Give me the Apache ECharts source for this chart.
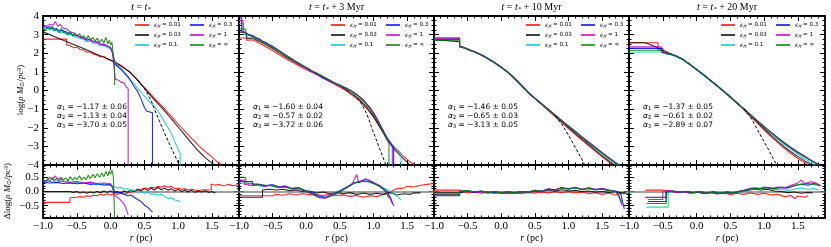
<!DOCTYPE html>
<html><head><meta charset="utf-8">
<script src="https://cdn.jsdelivr.net/npm/echarts@6/dist/echarts.min.js"></script>
<style>html,body{margin:0;padding:0;background:#fff}#c{width:831px;height:247px}</style>
</head><body><div id="c"></div>
<script>
// ---------- labels ----------
const TITLES = ['', ' + 3 Myr', ' + 10 Myr', ' + 20 Myr'];
const EPS = ['0.01', '0.03', '0.1', '0.3', '1', '∞'];
const ALPHAS = [
  ['−1.17 ± 0.06', '−1.13 ± 0.04', '−3.70 ± 0.05'],
  ['−1.60 ± 0.04', '−0.57 ± 0.02', '−3.72 ± 0.06'],
  ['−1.46 ± 0.05', '−0.65 ± 0.03', '−3.13 ± 0.05'],
  ['−1.37 ± 0.05', '−0.61 ± 0.02', '−2.89 ± 0.07']
];
const X_TICKS = [-1.0, -0.5, 0.0, 0.5, 1.0, 1.5];
const Y_TOP_TICKS = [-4, -3, -2, -1, 0, 1, 2, 3, 4];
const Y_RES_TICKS = [-0.5, 0.0, 0.5];

// ---------- panel 1 (t = t*) density profiles [r, log rho] ----------
const T1_R = [[-1,2.76],[-0.65,2.76],[-0.65,2.45],[-0.6,2.42],[-0.55,2.3],[-0.5,2.34],[-0.45,2.2],[-0.4,2.18],[-0.35,2.05],[-0.3,2.08],[-0.25,1.95],[-0.2,1.9],[-0.15,1.8],[-0.1,1.84],[-0.05,1.7],[0,1.64],[0.05,1.58],[0.1,1.46],[0.15,1.36],[0.2,1.22],[0.25,1.08],[0.3,0.92],[0.35,0.74],[0.4,0.56],[0.45,0.36],[0.5,0.17],[0.55,-0.02],[0.6,-0.22],[0.65,-0.42],[0.7,-0.6],[0.75,-0.8],[0.8,-0.98],[0.85,-1.2],[0.9,-1.38],[0.95,-1.6],[1.0,-1.8],[1.05,-2.0],[1.1,-2.2],[1.15,-2.38],[1.2,-2.58],[1.25,-2.75],[1.3,-2.95],[1.35,-3.12],[1.4,-3.28],[1.45,-3.42],[1.5,-3.58],[1.55,-3.75],[1.6,-3.88],[1.63,-3.95],[1.63,-4.5]];
const T1_K = [[-1,3.15],[-0.9,3.0],[-0.8,2.85],[-0.7,2.7],[-0.6,2.55],[-0.5,2.4],[-0.4,2.25],[-0.3,2.09],[-0.2,1.93],[-0.1,1.78],[0,1.62],[0.1,1.42],[0.2,1.2],[0.3,0.95],[0.4,0.56],[0.5,0.12],[0.6,-0.3],[0.7,-0.7],[0.8,-1.1],[0.9,-1.52],[1.0,-1.96],[1.1,-2.4],[1.2,-2.84],[1.3,-3.26],[1.4,-3.6],[1.5,-3.9],[1.55,-4.05]];
const T1_C = [[-1,3.38],[-0.95,3.3],[-0.9,3.35],[-0.85,3.2],[-0.8,3.25],[-0.75,3.1],[-0.7,3.15],[-0.65,3.0],[-0.6,3.02],[-0.55,2.9],[-0.5,2.85],[-0.45,2.8],[-0.4,2.75],[-0.35,2.62],[-0.3,2.65],[-0.25,2.5],[-0.2,2.52],[-0.15,2.4],[-0.1,2.42],[-0.05,2.3],[0,2.25],[0.03,2.05],[0.06,1.55],[0.1,1.35],[0.15,1.2],[0.2,1.0],[0.25,0.8],[0.3,0.55],[0.35,0.35],[0.4,0.12],[0.45,-0.08],[0.5,-0.3],[0.55,-0.5],[0.6,-0.7],[0.65,-0.88],[0.7,-1.1],[0.75,-1.4],[0.8,-1.7],[0.85,-2.0],[0.9,-2.3],[0.95,-2.75],[1.0,-3.15],[1.03,-3.4],[1.03,-4.5]];
const T1_B = [[-1,3.45],[-0.95,3.38],[-0.9,3.42],[-0.85,3.3],[-0.8,3.32],[-0.75,3.2],[-0.7,3.22],[-0.65,3.08],[-0.6,3.1],[-0.55,2.95],[-0.5,2.98],[-0.45,2.85],[-0.4,2.82],[-0.35,2.7],[-0.3,2.75],[-0.25,2.6],[-0.2,2.62],[-0.15,2.5],[-0.1,2.45],[-0.05,2.4],[0,2.3],[0.03,2.0],[0.06,1.45],[0.1,1.3],[0.15,1.15],[0.2,0.95],[0.25,0.75],[0.3,0.5],[0.35,0.2],[0.4,-0.05],[0.45,-0.45],[0.5,-0.9],[0.53,-1.1],[0.58,-1.15],[0.62,-1.2],[0.62,-4.5]];
const T1_M = [[-1,3.5],[-0.95,3.45],[-0.9,3.55],[-0.85,3.5],[-0.82,3.7],[-0.78,3.45],[-0.75,3.55],[-0.7,3.35],[-0.65,3.3],[-0.6,3.15],[-0.55,3.1],[-0.5,2.95],[-0.45,2.9],[-0.4,2.8],[-0.35,2.78],[-0.3,2.7],[-0.25,2.62],[-0.2,2.6],[-0.15,2.48],[-0.1,2.5],[-0.05,2.38],[0,2.3],[0.03,2.0],[0.05,1.2],[0.07,0.6],[0.12,0.55],[0.15,0.45],[0.2,0.4],[0.23,0.2],[0.26,0.1],[0.26,-4.5]];
const T1_G = [[-1,3.35],[-0.96,3.2],[-0.93,3.4],[-0.9,3.25],[-0.86,3.45],[-0.83,3.2],[-0.8,3.3],[-0.76,3.1],[-0.73,3.35],[-0.7,3.1],[-0.66,3.2],[-0.63,3.0],[-0.6,3.15],[-0.56,2.95],[-0.53,3.1],[-0.5,2.9],[-0.46,3.05],[-0.43,2.85],[-0.4,2.95],[-0.36,2.75],[-0.33,2.95],[-0.3,2.7],[-0.26,2.85],[-0.23,2.65],[-0.2,2.8],[-0.16,2.6],[-0.13,2.75],[-0.1,2.55],[-0.07,2.85],[-0.04,2.5],[-0.02,2.7],[0,2.45],[0.02,2.6],[0.04,1.9],[0.06,1.4],[0.06,0.3]];
const T1_FIT = [[0.4,0.56],[0.5,0.12],[0.55,-0.2],[0.61,-0.63],[0.66,-1.1],[0.72,-1.62],[0.8,-2.3],[0.9,-3.1],[1.0,-3.88],[1.03,-4.1]];
// residuals panel 1 [r, dlog rho]
const D1_R = [[-1,-0.38],[-0.6,-0.38],[-0.6,-0.22],[-0.5,-0.2],[-0.45,-0.18],[-0.4,-0.2],[-0.35,-0.15],[-0.3,-0.17],[-0.25,-0.13],[-0.2,-0.15],[-0.15,-0.1],[-0.1,-0.13],[-0.05,-0.08],[0,-0.12],[0.05,-0.08],[0.1,-0.1],[0.15,-0.06],[0.2,-0.1],[0.25,-0.05],[0.3,-0.02],[0.35,0.0],[0.4,0.05],[0.45,0.08],[0.5,0.12],[0.55,0.1],[0.6,0.15],[0.65,0.12],[0.7,0.18],[0.75,0.15],[0.8,0.2],[0.85,0.15],[0.9,0.18],[0.95,0.1],[1.0,0.12],[1.05,0.08],[1.1,0.1],[1.15,0.05],[1.2,0.08],[1.25,0.05],[1.3,0.03],[1.35,0.05],[1.4,0.06],[1.45,0.05],[1.49,0.06],[1.49,0.26],[1.55,0.22],[1.6,0.25],[1.65,0.2],[1.7,0.22],[1.75,0.25],[1.8,0.2],[1.85,0.22],[1.9,0.24]];
const D1_K = [[-1,0.0],[-0.6,0.0],[-0.55,-0.03],[-0.5,0.0],[-0.45,-0.05],[-0.4,-0.02],[-0.35,-0.06],[-0.3,-0.02],[-0.25,-0.05],[-0.2,0.0],[-0.15,-0.04],[-0.1,0.02],[-0.05,-0.03],[0,0.02],[0.05,-0.04],[0.1,0.0],[0.15,-0.05],[0.2,0.02],[0.25,-0.03],[0.3,0.05],[0.35,0.0],[0.4,0.08],[0.45,0.02],[0.5,0.1],[0.55,0.03],[0.6,0.12],[0.65,0.05],[0.7,0.15],[0.75,0.06],[0.8,0.12],[0.85,0.04],[0.9,0.1],[0.95,0.02],[1.0,0.08],[1.05,0.0],[1.1,0.05],[1.15,-0.02],[1.2,0.04],[1.25,-0.03],[1.3,0.02],[1.35,-0.02],[1.4,0.03],[1.45,-0.03],[1.5,0.0],[1.55,-0.05]];
const D1_C = [[-1,0.38],[-0.9,0.35],[-0.8,0.33],[-0.7,0.36],[-0.6,0.3],[-0.5,0.32],[-0.4,0.28],[-0.3,0.3],[-0.2,0.24],[-0.1,0.26],[0,0.2],[0.05,0.18],[0.1,0.12],[0.15,0.15],[0.2,0.08],[0.25,0.1],[0.3,0.02],[0.35,0.05],[0.4,-0.02],[0.45,0.0],[0.5,-0.06],[0.55,-0.03],[0.6,-0.1],[0.65,-0.08],[0.7,-0.12],[0.75,-0.1],[0.8,-0.18],[0.85,-0.25],[0.9,-0.22],[0.95,-0.3],[1.0,-0.32],[1.03,-0.36]];
const D1_B = [[-1,0.33],[-0.9,0.3],[-0.8,0.32],[-0.7,0.28],[-0.6,0.3],[-0.5,0.27],[-0.4,0.3],[-0.3,0.25],[-0.2,0.27],[-0.1,0.22],[0,0.25],[0.03,0.15],[0.06,0.0],[0.1,-0.05],[0.15,-0.03],[0.2,-0.1],[0.25,-0.15],[0.3,-0.12],[0.35,-0.2],[0.4,-0.28],[0.45,-0.35],[0.5,-0.48],[0.55,-0.55],[0.6,-0.68],[0.62,-0.72]];
const D1_M = [[-1,0.35],[-0.95,0.38],[-0.9,0.5],[-0.85,0.4],[-0.82,0.55],[-0.78,0.42],[-0.75,0.48],[-0.7,0.35],[-0.6,0.32],[-0.5,0.35],[-0.4,0.3],[-0.3,0.33],[-0.2,0.28],[-0.1,0.3],[0,0.27],[0.03,0.1],[0.06,-0.15],[0.1,-0.2],[0.15,-0.3],[0.2,-0.45],[0.23,-0.6],[0.26,-0.82]];
const D1_G = [[-1,0.38],[-0.96,0.3],[-0.93,0.45],[-0.9,0.35],[-0.86,0.5],[-0.83,0.38],[-0.8,0.45],[-0.76,0.35],[-0.73,0.5],[-0.7,0.4],[-0.66,0.48],[-0.63,0.36],[-0.6,0.52],[-0.56,0.4],[-0.53,0.5],[-0.5,0.42],[-0.46,0.55],[-0.43,0.4],[-0.4,0.5],[-0.36,0.42],[-0.33,0.58],[-0.3,0.45],[-0.26,0.6],[-0.23,0.48],[-0.2,0.62],[-0.16,0.5],[-0.13,0.65],[-0.1,0.52],[-0.07,0.7],[-0.04,0.55],[-0.02,0.72],[0,0.6],[0.02,0.75],[0.04,0.55],[0.06,0.5],[0.06,-0.95]];

// ---------- panel 2 (t* + 3 Myr) ----------
const T2_R = [[-1,2.82],[-0.89,2.82],[-0.89,2.7],[-0.8,2.72],[-0.7,2.55],[-0.6,2.35],[-0.5,2.15],[-0.4,1.92],[-0.3,1.7],[-0.2,1.5],[-0.1,1.3],[0,1.12],[0.1,0.95],[0.2,0.78],[0.3,0.58],[0.4,0.38],[0.5,0.18],[0.6,-0.03],[0.7,-0.3],[0.8,-0.58],[0.9,-0.98],[1.0,-1.42],[1.1,-1.98],[1.2,-2.55],[1.3,-3.02],[1.4,-3.38],[1.5,-3.7],[1.55,-3.85],[1.6,-3.95],[1.62,-4.5]];
const T2_K = [[-1,3.15],[-0.9,3.1],[-0.88,3.0],[-0.88,2.8],[-0.8,2.82],[-0.7,2.65],[-0.6,2.45],[-0.5,2.25],[-0.4,2.02],[-0.3,1.8],[-0.2,1.58],[-0.1,1.38],[0,1.2],[0.1,1.02],[0.2,0.85],[0.3,0.65],[0.4,0.45],[0.5,0.25],[0.6,0.03],[0.7,-0.22],[0.8,-0.5],[0.9,-0.9],[1.0,-1.38],[1.1,-2.0],[1.2,-2.62],[1.3,-3.12],[1.4,-3.5],[1.5,-3.85],[1.55,-4.05]];
const T2_C = [[-1,3.6],[-0.93,3.6],[-0.93,3.0],[-0.85,2.98],[-0.8,2.92],[-0.7,2.75],[-0.6,2.55],[-0.5,2.35],[-0.4,2.1],[-0.3,1.88],[-0.2,1.62],[-0.1,1.42],[0,1.2],[0.1,0.98],[0.2,0.76],[0.3,0.58],[0.4,0.42],[0.5,0.3],[0.6,0.12],[0.7,-0.1],[0.8,-0.38],[0.9,-0.75],[1.0,-1.22],[1.1,-1.85],[1.2,-2.5],[1.3,-3.0],[1.41,-3.35],[1.41,-4.5]];
const T2_B = [[-1,3.9],[-0.96,3.9],[-0.96,3.2],[-0.9,3.1],[-0.85,3.0],[-0.8,2.95],[-0.75,2.85],[-0.7,2.78],[-0.65,2.65],[-0.6,2.58],[-0.55,2.45],[-0.5,2.38],[-0.45,2.25],[-0.4,2.14],[-0.35,2.0],[-0.3,1.9],[-0.25,1.75],[-0.2,1.66],[-0.15,1.52],[-0.1,1.44],[-0.05,1.3],[0,1.22],[0.05,1.08],[0.1,1.0],[0.15,0.87],[0.2,0.79],[0.25,0.66],[0.3,0.6],[0.35,0.48],[0.4,0.42],[0.45,0.33],[0.5,0.28],[0.55,0.18],[0.6,0.12],[0.65,0.0],[0.7,-0.08],[0.75,-0.22],[0.8,-0.35],[0.85,-0.52],[0.9,-0.72],[0.95,-0.95],[1.0,-1.2],[1.05,-1.5],[1.1,-1.85],[1.15,-2.2],[1.2,-2.55],[1.25,-2.85],[1.3,-3.05],[1.3,-4.5]];
const T2_M = [[-1,3.75],[-0.94,3.75],[-0.94,3.15],[-0.9,3.08],[-0.85,2.98],[-0.8,2.92],[-0.75,2.82],[-0.7,2.72],[-0.65,2.62],[-0.6,2.52],[-0.55,2.44],[-0.5,2.32],[-0.45,2.24],[-0.4,2.1],[-0.35,2.02],[-0.3,1.86],[-0.25,1.78],[-0.2,1.62],[-0.15,1.55],[-0.1,1.4],[-0.05,1.32],[0,1.18],[0.05,1.1],[0.1,0.96],[0.15,0.9],[0.2,0.76],[0.25,0.7],[0.3,0.56],[0.35,0.52],[0.4,0.4],[0.45,0.36],[0.5,0.24],[0.55,0.2],[0.6,0.08],[0.65,0.03],[0.7,-0.1],[0.75,-0.2],[0.8,-0.38],[0.85,-0.5],[0.9,-0.74],[0.95,-0.92],[1.0,-1.22],[1.05,-1.48],[1.1,-1.88],[1.15,-2.18],[1.2,-2.58],[1.25,-2.8],[1.28,-3.0],[1.28,-4.5]];
const T2_G = [[-1,3.3],[-0.9,3.3],[-0.9,3.02],[-0.85,2.95],[-0.8,2.9],[-0.75,2.8],[-0.7,2.72],[-0.65,2.6],[-0.6,2.52],[-0.55,2.42],[-0.5,2.32],[-0.45,2.2],[-0.4,2.1],[-0.35,2.0],[-0.3,1.88],[-0.25,1.78],[-0.2,1.68],[-0.15,1.55],[-0.1,1.45],[-0.05,1.35],[0,1.25],[0.05,1.15],[0.1,1.02],[0.15,0.95],[0.2,0.82],[0.25,0.75],[0.3,0.64],[0.35,0.56],[0.4,0.46],[0.45,0.38],[0.5,0.28],[0.55,0.2],[0.6,0.1],[0.65,0.02],[0.7,-0.12],[0.75,-0.24],[0.8,-0.4],[0.85,-0.56],[0.9,-0.78],[0.95,-1.0],[1.0,-1.28],[1.05,-1.58],[1.1,-1.92],[1.15,-2.28],[1.2,-2.65],[1.23,-2.85],[1.23,-4.5]];
const T2_FIT = [[0.7,-0.22],[0.8,-0.58],[0.9,-1.25],[0.99,-2.16],[1.1,-3.2],[1.19,-4.05]];
const D2_R = [[-1,-0.15],[-0.5,-0.15],[-0.45,-0.1],[-0.35,-0.13],[-0.25,-0.08],[-0.15,-0.12],[-0.05,-0.07],[0.05,-0.12],[0.15,-0.1],[0.25,-0.14],[0.35,-0.1],[0.45,-0.14],[0.55,-0.12],[0.65,-0.17],[0.75,-0.14],[0.85,-0.2],[0.95,-0.15],[1.05,-0.18],[1.15,-0.1],[1.25,-0.02],[1.3,0.05],[1.35,0.1],[1.45,0.12],[1.5,0.18],[1.6,0.16],[1.7,0.22],[1.8,0.25],[1.9,0.28]];
const D2_K = [[-1,-0.2],[-0.65,-0.2],[-0.65,0.05],[-0.55,0.08],[-0.45,0.05],[-0.35,0.08],[-0.25,0.03],[-0.15,0.05],[-0.05,0.0],[0.05,0.02],[0.15,-0.05],[0.25,-0.02],[0.35,-0.08],[0.45,-0.03],[0.55,-0.08],[0.65,-0.04],[0.75,-0.1],[0.85,-0.05],[0.95,-0.1],[1.05,-0.06],[1.15,-0.1],[1.25,-0.04],[1.35,-0.12],[1.45,-0.08],[1.55,-0.1],[1.6,-0.05],[1.7,-0.05]];
const D2_C = [[-1,0.3],[-0.85,0.3],[-0.85,0.2],[-0.75,0.22],[-0.65,0.18],[-0.55,0.22],[-0.45,0.15],[-0.35,0.18],[-0.25,0.1],[-0.15,0.14],[-0.05,0.05],[0.05,0.0],[0.15,-0.12],[0.25,-0.16],[0.35,-0.12],[0.45,-0.02],[0.55,0.1],[0.65,0.2],[0.75,0.32],[0.85,0.38],[0.95,0.32],[1.05,0.25],[1.15,0.12],[1.25,0.0],[1.35,-0.15],[1.41,-0.3]];
const D2_B = [[-1,0.35],[-0.8,0.35],[-0.8,0.22],[-0.7,0.25],[-0.6,0.2],[-0.5,0.24],[-0.4,0.16],[-0.3,0.18],[-0.2,0.1],[-0.1,0.12],[0,0.02],[0.1,-0.06],[0.2,-0.18],[0.3,-0.2],[0.4,-0.1],[0.5,0.02],[0.6,0.15],[0.7,0.3],[0.8,0.36],[0.9,0.42],[1.0,0.3],[1.1,0.2],[1.2,0.0],[1.25,-0.2],[1.3,-0.5]];
const D2_M = [[-1,0.4],[-0.92,0.4],[-0.92,0.25],[-0.82,0.22],[-0.72,0.26],[-0.62,0.18],[-0.52,0.22],[-0.42,0.14],[-0.32,0.2],[-0.22,0.1],[-0.12,0.14],[-0.02,0.0],[0.08,-0.08],[0.18,-0.2],[0.28,-0.24],[0.38,-0.12],[0.48,-0.04],[0.58,0.12],[0.68,0.25],[0.75,0.6],[0.78,0.3],[0.88,0.45],[0.98,0.35],[1.08,0.2],[1.18,0.02],[1.24,-0.2],[1.28,-0.42]];
const D2_G = [[-1,0.5],[-0.9,0.5],[-0.9,0.3],[-0.8,0.28],[-0.7,0.24],[-0.6,0.22],[-0.5,0.2],[-0.4,0.14],[-0.3,0.16],[-0.2,0.08],[-0.1,0.1],[0,0.0],[0.1,-0.1],[0.2,-0.22],[0.3,-0.22],[0.4,-0.14],[0.5,-0.02],[0.6,0.12],[0.7,0.28],[0.8,0.34],[0.9,0.36],[1.0,0.28],[1.1,0.16],[1.18,0.0],[1.23,-0.25]];

// ---------- panel 3 (t* + 10 Myr) ----------
const T3_R = [[-1,2.83],[-0.62,2.83],[-0.62,2.4],[-0.5,2.24],[-0.4,2.08],[-0.3,1.92],[-0.2,1.72],[-0.1,1.5],[0,1.25],[0.1,0.97],[0.2,0.62],[0.3,0.27],[0.4,-0.12],[0.5,-0.44],[0.6,-0.76],[0.7,-1.08],[0.8,-1.4],[0.9,-1.72],[1.0,-2.04],[1.1,-2.36],[1.2,-2.66],[1.3,-2.97],[1.4,-3.27],[1.5,-3.56],[1.6,-3.84],[1.65,-3.96],[1.66,-4.5]];
const T3_K = [[-1,2.72],[-0.8,2.68],[-0.62,2.62],[-0.62,2.38],[-0.5,2.22],[-0.4,2.08],[-0.3,1.92],[-0.2,1.72],[-0.1,1.5],[0,1.25],[0.1,0.98],[0.2,0.65],[0.3,0.28],[0.4,-0.1],[0.5,-0.42],[0.6,-0.72],[0.7,-1.03],[0.8,-1.35],[0.9,-1.66],[1.0,-1.98],[1.1,-2.3],[1.2,-2.6],[1.3,-2.9],[1.4,-3.2],[1.5,-3.5],[1.6,-3.78],[1.7,-4.05]];
const T3_C = [[-1,2.74],[-0.62,2.74],[-0.62,2.36],[-0.55,2.3],[-0.5,2.24],[-0.45,2.14],[-0.4,2.1],[-0.35,2.0],[-0.3,1.94],[-0.25,1.82],[-0.2,1.74],[-0.15,1.6],[-0.1,1.52],[-0.05,1.36],[0,1.26],[0.05,1.1],[0.1,1.0],[0.15,0.8],[0.2,0.66],[0.25,0.45],[0.3,0.3],[0.35,0.08],[0.4,-0.08],[0.45,-0.28],[0.5,-0.4],[0.55,-0.58],[0.6,-0.7],[0.65,-0.88],[0.7,-1.0],[0.75,-1.18],[0.8,-1.3],[0.85,-1.5],[0.9,-1.6],[0.95,-1.8],[1.0,-1.92],[1.1,-2.22],[1.2,-2.52],[1.3,-2.82],[1.4,-3.1],[1.5,-3.4],[1.6,-3.68],[1.7,-3.95],[1.75,-4.1]];
const T3_B = [[-1,2.76],[-0.62,2.76],[-0.62,2.35],[-0.55,2.3],[-0.5,2.2],[-0.45,2.15],[-0.4,2.06],[-0.35,2.02],[-0.3,1.9],[-0.25,1.84],[-0.2,1.7],[-0.15,1.62],[-0.1,1.48],[-0.05,1.38],[0,1.24],[0.05,1.12],[0.1,0.96],[0.15,0.82],[0.2,0.63],[0.25,0.47],[0.3,0.26],[0.35,0.1],[0.4,-0.1],[0.45,-0.25],[0.5,-0.42],[0.55,-0.55],[0.6,-0.72],[0.65,-0.85],[0.7,-1.02],[0.75,-1.15],[0.8,-1.32],[0.85,-1.45],[0.9,-1.62],[0.95,-1.75],[1.0,-1.92],[1.1,-2.2],[1.2,-2.5],[1.3,-2.78],[1.4,-3.06],[1.5,-3.35],[1.6,-3.62],[1.7,-3.88],[1.8,-4.1]];
const T3_M = [[-1,2.77],[-0.62,2.77],[-0.62,2.34],[-0.55,2.28],[-0.5,2.22],[-0.45,2.12],[-0.4,2.08],[-0.35,1.98],[-0.3,1.93],[-0.25,1.8],[-0.2,1.73],[-0.15,1.58],[-0.1,1.5],[-0.05,1.35],[0,1.25],[0.05,1.08],[0.1,0.98],[0.15,0.79],[0.2,0.64],[0.25,0.44],[0.3,0.27],[0.35,0.06],[0.4,-0.1],[0.45,-0.3],[0.5,-0.42],[0.55,-0.6],[0.6,-0.71],[0.65,-0.9],[0.7,-1.0],[0.75,-1.2],[0.8,-1.3],[0.85,-1.52],[0.9,-1.6],[0.95,-1.82],[1.0,-1.9],[1.1,-2.18],[1.2,-2.48],[1.3,-2.76],[1.4,-3.04],[1.5,-3.32],[1.6,-3.6],[1.7,-3.86],[1.8,-4.1]];
const T3_G = [[-1,2.7],[-0.62,2.7],[-0.62,2.36],[-0.55,2.29],[-0.5,2.23],[-0.45,2.13],[-0.4,2.09],[-0.35,1.99],[-0.3,1.92],[-0.25,1.81],[-0.2,1.72],[-0.15,1.59],[-0.1,1.49],[-0.05,1.37],[0,1.24],[0.05,1.1],[0.1,0.97],[0.15,0.81],[0.2,0.64],[0.25,0.46],[0.3,0.27],[0.35,0.08],[0.4,-0.1],[0.45,-0.27],[0.5,-0.42],[0.55,-0.57],[0.6,-0.72],[0.65,-0.87],[0.7,-1.02],[0.75,-1.17],[0.8,-1.32],[0.85,-1.48],[0.9,-1.62],[0.95,-1.78],[1.0,-1.92],[1.1,-2.2],[1.2,-2.5],[1.3,-2.8],[1.4,-3.08],[1.5,-3.36],[1.6,-3.64],[1.7,-3.9],[1.78,-4.1]];
const T3_FIT = [[0.8,-1.35],[0.9,-1.8],[1.0,-2.4],[1.1,-3.05],[1.2,-3.7],[1.25,-4.05]];
const D3_R = [[-1,0.05],[-0.62,0.05],[-0.62,-0.02],[-0.5,-0.05],[-0.4,-0.02],[-0.3,-0.06],[-0.2,-0.03],[-0.1,-0.07],[0,-0.04],[0.1,-0.08],[0.2,-0.05],[0.3,-0.08],[0.4,-0.03],[0.5,-0.06],[0.6,-0.02],[0.7,-0.05],[0.8,0.0],[0.9,-0.04],[1.0,0.0],[1.1,-0.05],[1.2,-0.02],[1.3,-0.08],[1.4,-0.04],[1.5,-0.1],[1.6,-0.05],[1.7,-0.12],[1.8,-0.05],[1.9,-0.08]];
const D3_K = [[-1,-0.05],[-0.62,-0.05],[-0.62,0.0],[-0.5,0.02],[-0.4,-0.02],[-0.3,0.01],[-0.2,-0.03],[-0.1,0.0],[0,-0.04],[0.1,-0.01],[0.2,-0.04],[0.3,0.0],[0.4,-0.02],[0.5,0.03],[0.6,0.0],[0.7,0.05],[0.8,0.02],[0.9,0.06],[1.0,0.02],[1.1,0.04],[1.2,0.0],[1.3,0.02],[1.4,-0.02],[1.5,0.0],[1.6,-0.03],[1.7,0.0],[1.8,-0.05],[1.85,-0.05]];
const D3_C = [[-1,-0.08],[-0.62,-0.08],[-0.62,0.0],[-0.5,0.03],[-0.4,-0.02],[-0.3,0.02],[-0.2,-0.03],[-0.1,0.0],[0,-0.05],[0.1,-0.02],[0.2,-0.05],[0.3,0.0],[0.4,-0.02],[0.5,0.04],[0.6,0.02],[0.7,0.08],[0.8,0.05],[0.9,0.12],[1.0,0.08],[1.1,0.12],[1.2,0.06],[1.3,0.1],[1.4,0.05],[1.5,0.08],[1.6,0.02],[1.7,0.0],[1.75,-0.2],[1.8,-0.35]];
const D3_B = [[-1,-0.15],[-0.62,-0.15],[-0.62,0.0],[-0.5,0.02],[-0.4,-0.03],[-0.3,0.0],[-0.2,-0.05],[-0.1,-0.02],[0,-0.06],[0.1,-0.03],[0.2,-0.06],[0.3,-0.01],[0.4,-0.03],[0.5,0.03],[0.6,0.01],[0.7,0.08],[0.8,0.06],[0.9,0.13],[1.0,0.1],[1.1,0.14],[1.2,0.08],[1.3,0.12],[1.4,0.08],[1.5,0.1],[1.6,0.05],[1.7,0.02],[1.78,-0.1],[1.83,-0.62]];
const D3_M = [[-1,-0.1],[-0.62,-0.1],[-0.62,0.02],[-0.5,0.0],[-0.4,-0.02],[-0.3,0.02],[-0.2,-0.04],[-0.1,0.0],[0,-0.05],[0.1,-0.02],[0.2,-0.07],[0.3,-0.02],[0.4,-0.04],[0.5,0.04],[0.6,0.0],[0.7,0.1],[0.8,0.04],[0.9,0.14],[1.0,0.08],[1.1,0.15],[1.2,0.07],[1.3,0.13],[1.4,0.06],[1.5,0.1],[1.6,0.04],[1.7,0.0],[1.76,-0.2],[1.8,-0.5]];
const D3_G = [[-1,-0.12],[-0.62,-0.12],[-0.62,0.01],[-0.5,0.03],[-0.4,-0.01],[-0.3,0.01],[-0.2,-0.04],[-0.1,-0.01],[0,-0.05],[0.1,-0.02],[0.2,-0.05],[0.3,-0.01],[0.4,-0.03],[0.5,0.04],[0.6,0.01],[0.7,0.09],[0.8,0.05],[0.9,0.12],[1.0,0.09],[1.1,0.13],[1.2,0.07],[1.3,0.11],[1.4,0.06],[1.5,0.09],[1.6,0.04],[1.7,0.0],[1.75,-0.15],[1.78,-0.4]];

// ---------- panel 4 (t* + 20 Myr) ----------
const T4_R = [[-1,2.56],[-0.57,2.56],[-0.57,2.2],[-0.5,2.1],[-0.4,1.97],[-0.3,1.84],[-0.2,1.65],[-0.1,1.4],[0,1.12],[0.1,0.85],[0.2,0.56],[0.3,0.26],[0.4,-0.05],[0.5,-0.38],[0.6,-0.7],[0.7,-1.04],[0.8,-1.4],[0.9,-1.76],[1.0,-2.12],[1.1,-2.48],[1.2,-2.8],[1.3,-3.12],[1.4,-3.4],[1.5,-3.65],[1.6,-3.88],[1.65,-3.98],[1.66,-4.5]];
const T4_K = [[-1,2.56],[-0.76,2.56],[-0.7,2.48],[-0.6,2.33],[-0.5,2.17],[-0.4,2.0],[-0.3,1.85],[-0.2,1.66],[-0.1,1.4],[0,1.12],[0.1,0.85],[0.2,0.56],[0.3,0.27],[0.4,-0.03],[0.5,-0.35],[0.6,-0.68],[0.7,-1.0],[0.8,-1.35],[0.9,-1.7],[1.0,-2.05],[1.1,-2.4],[1.2,-2.72],[1.3,-3.03],[1.4,-3.3],[1.5,-3.55],[1.6,-3.78],[1.7,-3.98],[1.72,-4.1]];
const T4_C = [[-1,2.07],[-0.45,2.07],[-0.45,1.95],[-0.4,1.93],[-0.3,1.82],[-0.2,1.64],[-0.1,1.38],[0,1.1],[0.1,0.82],[0.2,0.53],[0.3,0.24],[0.4,-0.06],[0.5,-0.37],[0.6,-0.7],[0.7,-1.0],[0.8,-1.32],[0.9,-1.65],[1.0,-1.98],[1.1,-2.3],[1.2,-2.6],[1.3,-2.9],[1.4,-3.16],[1.5,-3.42],[1.6,-3.66],[1.7,-3.88],[1.78,-4.1]];
const T4_B = [[-1,2.26],[-0.5,2.26],[-0.5,2.04],[-0.45,2.0],[-0.4,1.98],[-0.35,1.9],[-0.3,1.86],[-0.25,1.75],[-0.2,1.68],[-0.15,1.52],[-0.1,1.42],[-0.05,1.26],[0,1.14],[0.05,0.98],[0.1,0.86],[0.15,0.7],[0.2,0.56],[0.25,0.4],[0.3,0.28],[0.35,0.1],[0.4,-0.02],[0.45,-0.2],[0.5,-0.33],[0.55,-0.52],[0.6,-0.65],[0.65,-0.84],[0.7,-0.97],[0.75,-1.15],[0.8,-1.3],[0.85,-1.48],[0.9,-1.62],[0.95,-1.8],[1.0,-1.94],[1.1,-2.25],[1.2,-2.55],[1.3,-2.83],[1.4,-3.1],[1.5,-3.34],[1.6,-3.56],[1.7,-3.78],[1.8,-3.98],[1.83,-4.1]];
const T4_M = [[-1,2.34],[-0.52,2.34],[-0.52,2.05],[-0.45,2.02],[-0.4,1.96],[-0.35,1.92],[-0.3,1.84],[-0.25,1.77],[-0.2,1.66],[-0.15,1.54],[-0.1,1.4],[-0.05,1.28],[0,1.12],[0.05,1.0],[0.1,0.84],[0.15,0.72],[0.2,0.54],[0.25,0.42],[0.3,0.25],[0.35,0.12],[0.4,-0.05],[0.45,-0.18],[0.5,-0.36],[0.55,-0.5],[0.6,-0.68],[0.65,-0.82],[0.7,-1.0],[0.75,-1.13],[0.8,-1.32],[0.85,-1.46],[0.9,-1.64],[0.95,-1.78],[1.0,-1.95],[1.1,-2.24],[1.2,-2.52],[1.3,-2.8],[1.4,-3.06],[1.5,-3.3],[1.6,-3.52],[1.7,-3.75],[1.8,-3.96],[1.84,-4.1]];
const T4_G = [[-1,2.16],[-0.5,2.16],[-0.5,2.02],[-0.45,1.99],[-0.4,1.95],[-0.35,1.91],[-0.3,1.85],[-0.25,1.76],[-0.2,1.67],[-0.15,1.53],[-0.1,1.41],[-0.05,1.27],[0,1.13],[0.05,0.99],[0.1,0.85],[0.15,0.71],[0.2,0.55],[0.25,0.41],[0.3,0.26],[0.35,0.11],[0.4,-0.04],[0.45,-0.19],[0.5,-0.35],[0.55,-0.51],[0.6,-0.67],[0.65,-0.83],[0.7,-0.99],[0.75,-1.14],[0.8,-1.31],[0.85,-1.47],[0.9,-1.63],[0.95,-1.79],[1.0,-1.95],[1.1,-2.25],[1.2,-2.54],[1.3,-2.82],[1.4,-3.08],[1.5,-3.32],[1.6,-3.55],[1.7,-3.77],[1.8,-3.97],[1.83,-4.1]];
const T4_FIT = [[0.7,-1.0],[0.8,-1.45],[0.91,-2.16],[1.05,-3.08],[1.2,-4.1]];
const D4_R = [[-0.76,0.05],[-0.5,0.05],[-0.5,0.0],[-0.4,0.02],[-0.3,-0.03],[-0.2,0.0],[-0.1,-0.05],[0,-0.02],[0.1,-0.07],[0.2,-0.04],[0.3,-0.08],[0.4,-0.05],[0.5,-0.1],[0.6,-0.06],[0.7,-0.1],[0.8,-0.05],[0.9,-0.1],[1.0,-0.06],[1.1,-0.12],[1.2,-0.1],[1.3,-0.18],[1.4,-0.14],[1.45,-0.25],[1.5,-0.16],[1.6,-0.2],[1.65,-0.15]];
const D4_K = [[-0.76,-0.2],[-0.45,-0.2],[-0.45,-0.02],[-0.35,0.01],[-0.25,-0.03],[-0.15,0.0],[-0.05,-0.04],[0.05,-0.01],[0.15,-0.05],[0.25,-0.02],[0.35,-0.06],[0.45,-0.02],[0.55,-0.05],[0.65,0.0],[0.75,0.04],[0.85,0.08],[0.95,0.05],[1.05,0.08],[1.15,0.02],[1.25,0.0],[1.35,-0.04],[1.45,-0.02],[1.55,-0.06],[1.65,-0.03],[1.72,-0.05]];
const D4_C = [[-0.74,-0.55],[-0.42,-0.55],[-0.42,-0.03],[-0.35,0.0],[-0.25,-0.04],[-0.15,-0.01],[-0.05,-0.05],[0.05,-0.02],[0.15,-0.06],[0.25,-0.03],[0.35,-0.06],[0.45,-0.02],[0.55,-0.05],[0.65,0.0],[0.75,0.05],[0.85,0.1],[0.95,0.08],[1.05,0.12],[1.15,0.06],[1.25,0.08],[1.35,0.04],[1.45,0.08],[1.55,0.12],[1.65,0.08],[1.75,0.1],[1.8,0.05]];
const D4_B = [[-0.72,-0.35],[-0.45,-0.35],[-0.45,-0.02],[-0.35,0.02],[-0.25,-0.03],[-0.15,0.0],[-0.05,-0.05],[0.05,-0.02],[0.15,-0.06],[0.25,-0.02],[0.35,-0.07],[0.45,-0.03],[0.55,-0.05],[0.65,0.02],[0.75,0.06],[0.85,0.12],[0.95,0.1],[1.05,0.15],[1.15,0.1],[1.25,0.14],[1.35,0.12],[1.45,0.2],[1.55,0.26],[1.65,0.22],[1.75,0.3],[1.83,0.2]];
const D4_M = [[-0.72,-0.28],[-0.5,-0.28],[-0.5,0.0],[-0.4,0.03],[-0.3,-0.04],[-0.2,0.0],[-0.1,-0.06],[0,-0.02],[0.1,-0.08],[0.2,-0.03],[0.3,-0.09],[0.4,-0.04],[0.5,-0.08],[0.6,0.0],[0.7,0.04],[0.8,0.12],[0.9,0.08],[1.0,0.16],[1.1,0.1],[1.2,0.16],[1.3,0.12],[1.4,0.22],[1.5,0.3],[1.55,0.4],[1.6,0.28],[1.7,0.35],[1.8,0.25],[1.84,0.2]];
const D4_G = [[-0.74,-0.42],[-0.45,-0.42],[-0.45,-0.01],[-0.35,0.02],[-0.25,-0.02],[-0.15,0.01],[-0.05,-0.04],[0.05,-0.01],[0.15,-0.05],[0.25,-0.02],[0.35,-0.05],[0.45,-0.02],[0.55,-0.04],[0.65,0.02],[0.75,0.06],[0.85,0.12],[0.95,0.1],[1.05,0.14],[1.15,0.1],[1.25,0.16],[1.35,0.14],[1.45,0.22],[1.55,0.25],[1.65,0.28],[1.75,0.24],[1.83,0.2]];

// ---------- assemble ----------
const TOP = [[T1_R,T1_K,T1_C,T1_B,T1_M,T1_G],[T2_R,T2_K,T2_C,T2_B,T2_M,T2_G],[T3_R,T3_K,T3_C,T3_B,T3_M,T3_G],[T4_R,T4_K,T4_C,T4_B,T4_M,T4_G]];
const FITS = [T1_FIT, T2_FIT, T3_FIT, T4_FIT];
const RES = [[D1_R,D1_K,D1_C,D1_B,D1_M,D1_G],[D2_R,D2_K,D2_C,D2_B,D2_M,D2_G],[D3_R,D3_K,D3_C,D3_B,D3_M,D3_G],[D4_R,D4_K,D4_C,D4_B,D4_M,D4_G]];

const COLORS = ['#ff0000', '#000000', '#00c8c8', '#0000ff', '#c000c0', '#008000'];
const SERIF = 'Liberation Serif';
const SANS = 'DejaVu Sans';
const LEFTS = [43, 239, 434, 629];
const WIDTHS = [196, 195, 195, 196];
const TOP_Y = 16, TOP_H = 149, RES_Y = 165, RES_H = 53;
const RES_LIM = 0.93;

function fmtX(v){ const s = Math.abs(v).toFixed(1); return (v < -1e-9 ? '\u2212' : '') + s; }
function fmtI(v){ return (v < 0 ? '\u2212' : '') + Math.abs(v); }
function range(a, b, s){ const o=[]; for(let v=a; v<=b+1e-9; v+=s) o.push(Math.round(v*100)/100); return o; }

const grids = [], xAxes = [], yAxes = [], series = [];
const X_MINOR = range(-1, 1.9, 0.1).filter(v => !X_TICKS.some(t => Math.abs(t-v) < 1e-6));
const YT_MINOR = range(-4, 4, 0.25).filter(v => Math.abs(v - Math.round(v)) > 1e-6);
const YR_MINOR = range(-0.9, 0.9, 0.1).filter(v => !Y_RES_TICKS.some(t => Math.abs(t-v) < 1e-6));

function addAxes(list, g, pos, min, max, major, minor, showLabel, fmt, margin){
  const idx = list.length;
  list.push({
    type:'value', gridIndex:g, position:pos, min, max,
    axisLine:{show:false, onZero:false}, splitLine:{show:false},
    axisTick:{show:true, inside:true, length:5, customValues:major, lineStyle:{color:'#000', width:1}},
    axisLabel:{show:showLabel, customValues:major, formatter:fmt, margin:margin, color:'#000', fontFamily:SERIF, fontSize:11}
  });
  list.push({
    type:'value', gridIndex:g, position:pos, min, max,
    axisLine:{show:false, onZero:false}, splitLine:{show:false},
    axisTick:{show:true, inside:true, length:2.5, customValues:minor, lineStyle:{color:'#000', width:1}},
    axisLabel:{show:false}
  });
  return idx;
}

for (let p = 0; p < 4; p++) {
  for (let row = 0; row < 2; row++) {
    const g = grids.length;
    grids.push({left:LEFTS[p], width:WIDTHS[p], top: row ? RES_Y : TOP_Y, height: row ? RES_H : TOP_H,
      show:true, borderColor:'#000', borderWidth:1.8, backgroundColor:'rgba(0,0,0,0)'});
    const xi = addAxes(xAxes, g, 'bottom', -1, 1.9, X_TICKS, X_MINOR, row === 1, fmtX, 3);
    addAxes(xAxes, g, 'top', -1, 1.9, X_TICKS, X_MINOR, false, fmtX, 3);
    const ymin = row ? -RES_LIM : -4, ymax = row ? RES_LIM : 4;
    const ymaj = row ? Y_RES_TICKS : Y_TOP_TICKS, ymin2 = row ? YR_MINOR : YT_MINOR;
    const yi = addAxes(yAxes, g, 'left', ymin, ymax, ymaj, ymin2, p === 0, row ? fmtX : fmtI, 4);
    addAxes(yAxes, g, 'right', ymin, ymax, ymaj, ymin2, false, fmtI, 4);
    const sets = row ? RES[p] : TOP[p];
    sets.forEach((d, s) => {
      const ser = {type:'line', name:EPS[s], xAxisIndex:xi, yAxisIndex:yi, data:d, symbol:'none', showSymbol:false,
        lineStyle:{color:COLORS[s], width:1.1, opacity:0.85}, itemStyle:{color:COLORS[s]}, z:2+s, animation:false, clip:true, silent:true};
      if (row === 1 && s === 0) ser.markLine = {silent:true, symbol:'none', label:{show:false}, animation:false,
        lineStyle:{color:'#808080', width:1.5, type:'solid'}, data:[{yAxis:0}], z:1};
      series.push(ser);
    });
    if (row === 0) series.push({type:'line', name:'fit', xAxisIndex:xi, yAxisIndex:yi, data:FITS[p], symbol:'none',
      lineStyle:{color:'#000', width:1, type:[3,2]}, z:10, animation:false, silent:true});
  }
}

// two legend columns per panel
const LEG_COLS = [['0.01', '0.03', '0.1'], ['0.3', '1', '∞']];
const legends = [];
LEFTS.forEach(l => LEG_COLS.forEach((col, c) => legends.push({
  left: l + 92 + 55 * c, top: 20, padding: 0, itemGap: 0, itemWidth: 14, itemHeight: 1.5,
  icon:'rect', orient:'vertical', data: col, selectedMode:false, z: 20,
  formatter: n => '{e|\u03b5}{s|ff}{t| = ' + n + '}',
  textStyle:{height:10, lineHeight:10, color:'#000', rich:{
    e:{fontFamily:SANS, fontStyle:'italic', fontSize:5.8, height:10},
    s:{fontFamily:SANS, fontStyle:'italic', fontSize:4.2, padding:[3,0,0,0]},
    t:{fontFamily:SANS, fontSize:5.6, height:10}}}
})));

const graphics = [];
const CENTERS = LEFTS.map((l, i) => l + WIDTHS[i] / 2);
TITLES.forEach((t, i) => {
  graphics.push({type:'text', x:CENTERS[i], y:7, style:{
    text:'{i|t}{n| = }{i|t}{s|*}' + (t ? '{n|' + t + '}' : ''), align:'center', verticalAlign:'middle',
    rich:{i:{fontFamily:SERIF, fontStyle:'italic', fontSize:10}, n:{fontFamily:SERIF, fontSize:10},
          s:{fontFamily:SERIF, fontStyle:'italic', fontSize:7, padding:[4,0,0,0]}}}});
  graphics.push({type:'text', x:CENTERS[i], y:238, style:{
    text:'{i|r}{n| (pc)}', align:'center', verticalAlign:'middle',
    rich:{i:{fontFamily:SERIF, fontStyle:'italic', fontSize:10}, n:{fontFamily:SERIF, fontSize:10}}}});
  ALPHAS[i].forEach((a, k) => {
    graphics.push({type:'text', x:LEFTS[i] + 14, y:107.5 + 9 * k, style:{
      text:'{a|\u03b1}{s|' + (k + 1) + '}{n| = ' + a + '}', align:'left', verticalAlign:'middle',
      rich:{a:{fontFamily:SANS, fontStyle:'italic', fontSize:7.5}, s:{fontFamily:SANS, fontSize:5, padding:[3,0,0,0]},
            n:{fontFamily:SANS, fontSize:7.5}}}});
  });
});
graphics.push({type:'text', x:21, y:90, rotation:Math.PI/2, style:{
  text:'{n|log(}{i|\u03c1 M}{s|\u2299}{n|/}{i|pc}{n|\u00b3)}', align:'center', verticalAlign:'middle',
  rich:{n:{fontFamily:SERIF, fontSize:9}, i:{fontFamily:SERIF, fontStyle:'italic', fontSize:9}, s:{fontFamily:SERIF, fontSize:6, padding:[3,0,0,0]}}}});
graphics.push({type:'text', x:8, y:191, rotation:Math.PI/2, style:{
  text:'{n|\u0394log(}{i|\u03c1 M}{s|\u2299}{n|/}{i|pc}{n|\u00b3)}', align:'center', verticalAlign:'middle',
  rich:{n:{fontFamily:SERIF, fontSize:9}, i:{fontFamily:SERIF, fontStyle:'italic', fontSize:9}, s:{fontFamily:SERIF, fontSize:6, padding:[3,0,0,0]}}}});

const chart = echarts.init(document.getElementById('c'), null, {renderer:'canvas'});
chart.setOption({animation:false, backgroundColor:'#fff', grid:grids, xAxis:xAxes, yAxis:yAxes, series, legend:legends, graphic:graphics});
</script></body></html>
